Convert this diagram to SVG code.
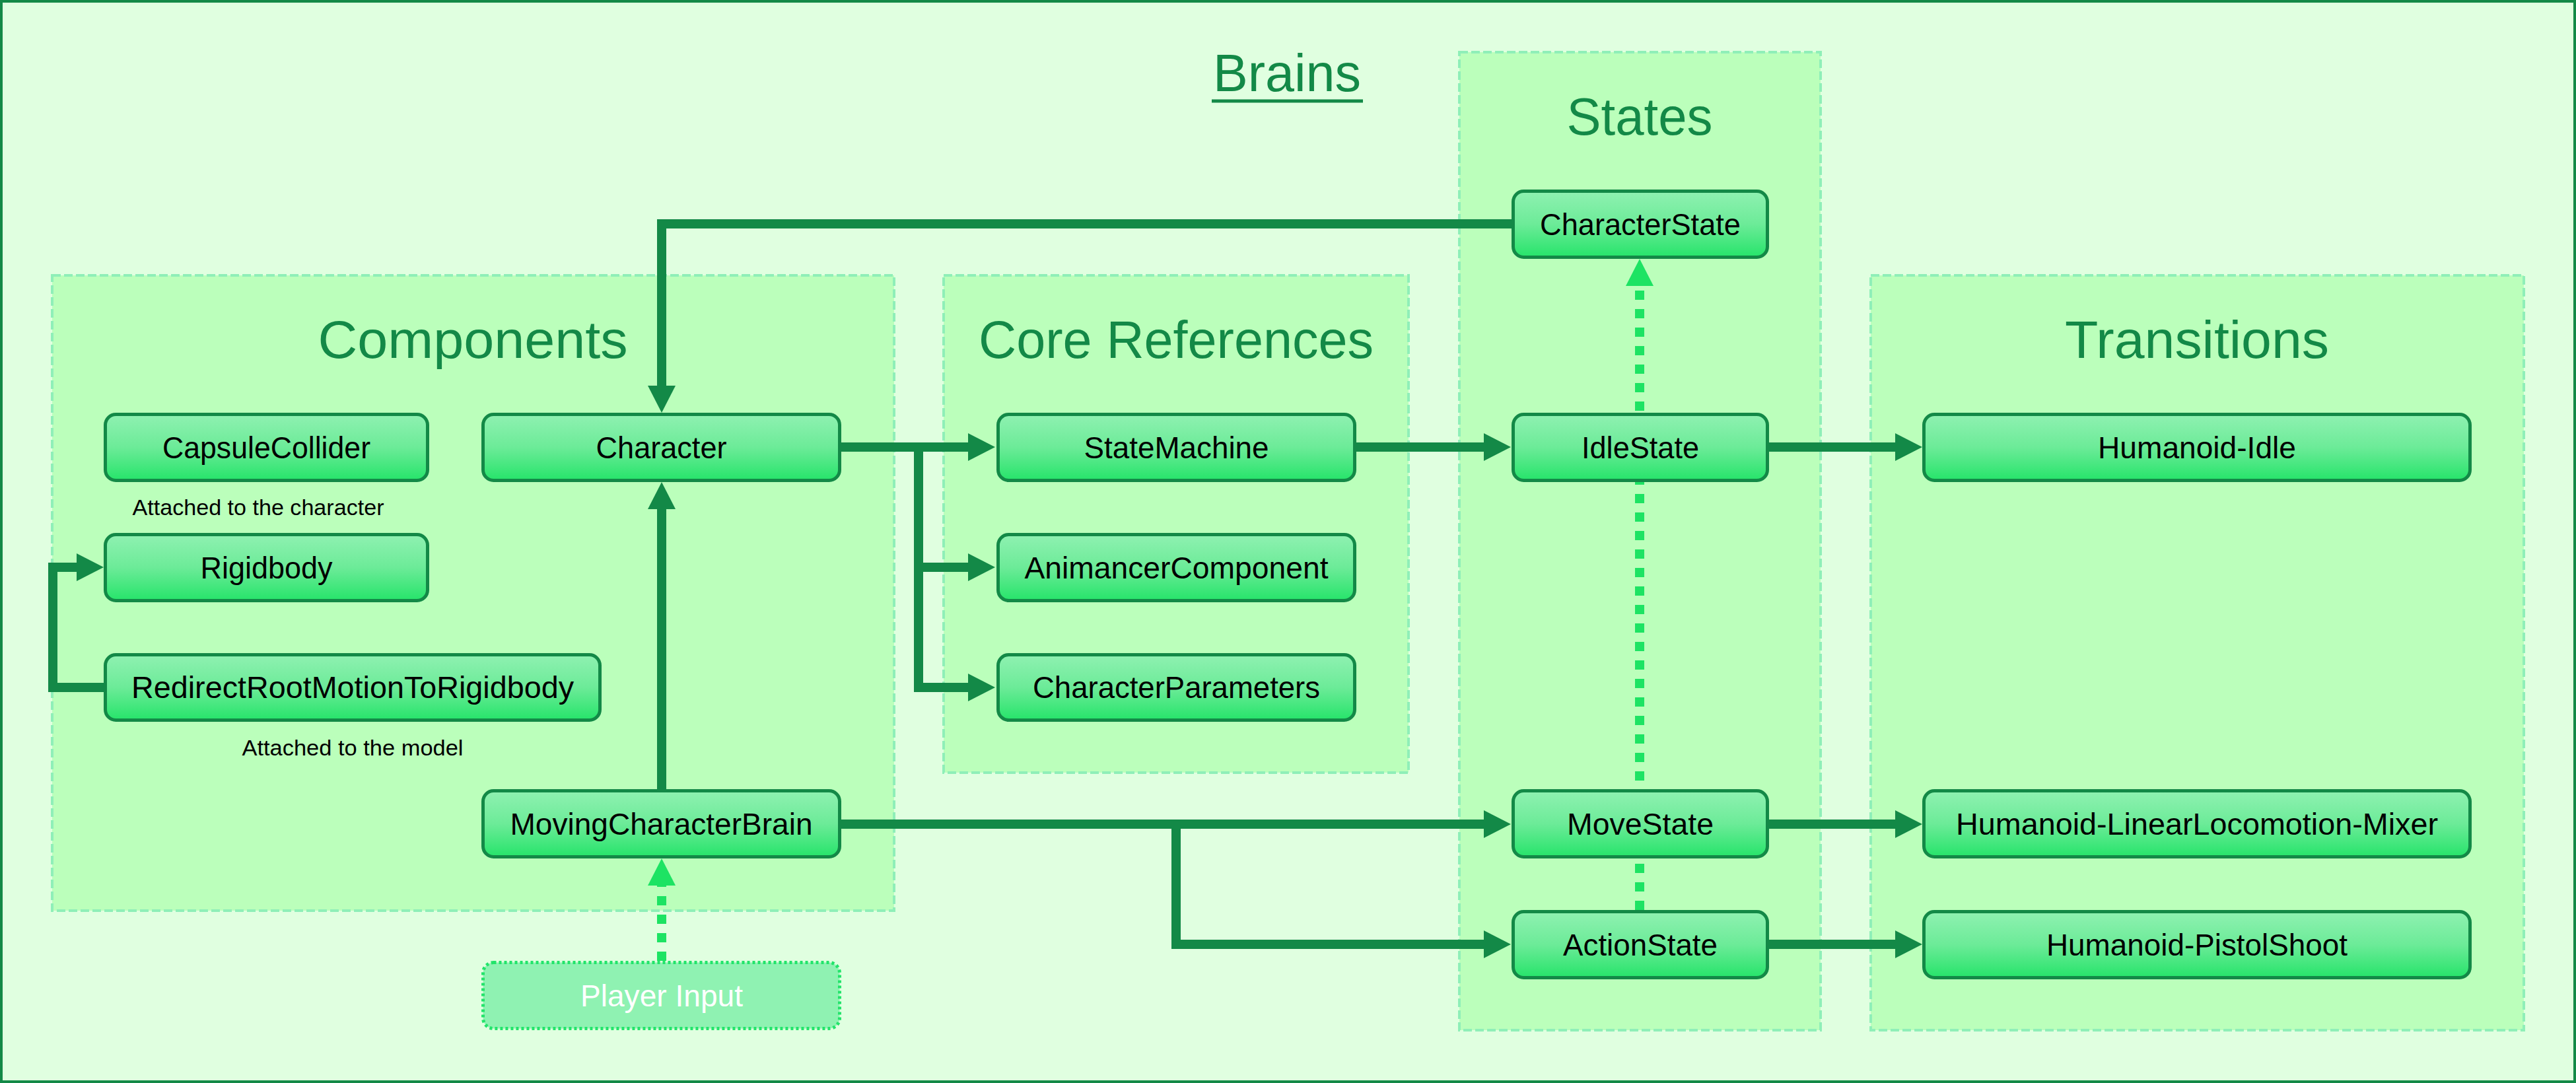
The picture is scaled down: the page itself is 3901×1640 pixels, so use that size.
<svg xmlns="http://www.w3.org/2000/svg" width="3901" height="1640" viewBox="0 0 3901 1640">
<defs>
<linearGradient id="nodeGrad" x1="0" y1="0" x2="0" y2="1">
<stop offset="0" stop-color="#8FF1B1"/>
<stop offset="0.5" stop-color="#6CEB98"/>
<stop offset="1" stop-color="#26E46A"/>
</linearGradient>
<marker id="arrow" markerUnits="userSpaceOnUse" markerWidth="42" markerHeight="42" refX="0" refY="21" orient="auto" viewBox="0 0 42 42">
<path d="M0,0 L41,21 L0,42 z" fill="#138947"/>
</marker>
<marker id="arrowDash" markerUnits="userSpaceOnUse" markerWidth="42" markerHeight="42" refX="0" refY="21" orient="auto" viewBox="0 0 42 42">
<path d="M0,0 L41,21 L0,42 z" fill="#1DE363"/>
</marker>
</defs>
<style>
.group{fill:#BBFFBB;stroke:#8FEFB8;stroke-width:4;stroke-dasharray:13 5}
.node rect{fill:url(#nodeGrad);stroke:#138947;stroke-width:5}
.node text{font-family:"Liberation Sans",Arial,sans-serif;font-size:46px;fill:#000;text-anchor:middle}
.title{font-family:"Liberation Sans",Arial,sans-serif;font-size:80px;fill:#138947;text-anchor:middle}
.note{font-family:"Liberation Sans",Arial,sans-serif;font-size:34px;fill:#000;text-anchor:middle}
.conn{fill:none;stroke:#138947;stroke-width:14;marker-end:url(#arrow)}
.dash{fill:none;stroke:#1DE363;stroke-width:14;stroke-dasharray:14 14;marker-end:url(#arrowDash)}
</style>
<rect x="2" y="2" width="3897" height="1636" fill="#E0FFE0" stroke="#138947" stroke-width="4"/>
<g id="title-brains">
<text class="title" x="1949" y="138" font-size="79" textLength="224" lengthAdjust="spacingAndGlyphs">Brains</text>
<line x1="1835" y1="153" x2="2064" y2="153" stroke="#138947" stroke-width="5"/>
</g>
<g id="group-components">
<rect class="group" x="79" y="417" width="1275" height="962"/>
<text class="title" x="716" y="542" textLength="469" lengthAdjust="spacingAndGlyphs">Components</text>
</g>
<g id="group-core-references">
<rect class="group" x="1429" y="417" width="704" height="753"/>
<text class="title" x="1781" y="542" textLength="598" lengthAdjust="spacingAndGlyphs">Core References</text>
</g>
<g id="group-states">
<rect class="group" x="2210" y="79" width="547" height="1481"/>
<text class="title" x="2483" y="204" textLength="221" lengthAdjust="spacingAndGlyphs">States</text>
</g>
<g id="group-transitions">
<rect class="group" x="2833" y="417" width="989" height="1143"/>
<text class="title" x="3327" y="542" textLength="400" lengthAdjust="spacingAndGlyphs">Transitions</text>
</g>
<g id="connectors">
<path class="dash" d="M2483,1378 V433"/>
<path class="dash" d="M1002,1455 V1341"/>
<path class="conn" d="M2289,339 H1002 V584"/>
<path class="conn" d="M1002,1195 V771"/>
<path class="conn" d="M1274,677 H1466"/>
<path class="conn" d="M1391,677 V859 H1466"/>
<path class="conn" d="M1391,859 V1041 H1466"/>
<path class="conn" d="M2054,677 H2247"/>
<path class="conn" d="M2679,677 H2870"/>
<path class="conn" d="M1274,1248 H2247"/>
<path class="conn" d="M1781,1248 V1430 H2247"/>
<path class="conn" d="M2679,1248 H2870"/>
<path class="conn" d="M2679,1430 H2870"/>
<path class="conn" d="M157,1041 H80 V859 H116"/>
</g>
<g id="node-capsulecollider" class="node">
<rect x="159.5" y="627.5" width="488" height="100" rx="16"/>
<text x="403.5" y="694" textLength="315" lengthAdjust="spacingAndGlyphs">CapsuleCollider</text>
</g>
<text id="note-character" class="note" x="391" y="780" textLength="381" lengthAdjust="spacingAndGlyphs">Attached to the character</text>
<g id="node-character" class="node">
<rect x="731.5" y="627.5" width="540" height="100" rx="16"/>
<text x="1001.5" y="694" textLength="198" lengthAdjust="spacingAndGlyphs">Character</text>
</g>
<g id="node-rigidbody" class="node">
<rect x="159.5" y="809.5" width="488" height="100" rx="16"/>
<text x="403.5" y="876" textLength="200" lengthAdjust="spacingAndGlyphs">Rigidbody</text>
</g>
<g id="node-redirect" class="node">
<rect x="159.5" y="991.5" width="749" height="99" rx="16"/>
<text x="534" y="1057" textLength="670" lengthAdjust="spacingAndGlyphs">RedirectRootMotionToRigidbody</text>
</g>
<text id="note-model" class="note" x="534" y="1144" textLength="335" lengthAdjust="spacingAndGlyphs">Attached to the model</text>
<g id="node-movingcharacterbrain" class="node">
<rect x="731.5" y="1197.5" width="540" height="100" rx="16"/>
<text x="1001.5" y="1264" textLength="458" lengthAdjust="spacingAndGlyphs">MovingCharacterBrain</text>
</g>
<g id="node-playerinput">
<rect x="731.5" y="1457.5" width="540" height="100" rx="16" fill="#8FF2B2" stroke="#22E46A" stroke-width="5" stroke-dasharray="4 4"/>
<text x="1002" y="1524" font-family="Liberation Sans, Arial, sans-serif" font-size="46" fill="#FFFFFF" text-anchor="middle" textLength="246" lengthAdjust="spacingAndGlyphs">Player Input</text>
</g>
<g id="node-statemachine" class="node">
<rect x="1511.5" y="627.5" width="540" height="100" rx="16"/>
<text x="1781.5" y="694" textLength="280" lengthAdjust="spacingAndGlyphs">StateMachine</text>
</g>
<g id="node-animancercomponent" class="node">
<rect x="1511.5" y="809.5" width="540" height="100" rx="16"/>
<text x="1781.5" y="876" textLength="460" lengthAdjust="spacingAndGlyphs">AnimancerComponent</text>
</g>
<g id="node-characterparameters" class="node">
<rect x="1511.5" y="991.5" width="540" height="99" rx="16"/>
<text x="1781.5" y="1057" textLength="435" lengthAdjust="spacingAndGlyphs">CharacterParameters</text>
</g>
<g id="node-characterstate" class="node">
<rect x="2291.5" y="289.5" width="385" height="100" rx="16"/>
<text x="2484" y="356" textLength="304" lengthAdjust="spacingAndGlyphs">CharacterState</text>
</g>
<g id="node-idlestate" class="node">
<rect x="2291.5" y="627.5" width="385" height="100" rx="16"/>
<text x="2484" y="694" textLength="178" lengthAdjust="spacingAndGlyphs">IdleState</text>
</g>
<g id="node-movestate" class="node">
<rect x="2291.5" y="1197.5" width="385" height="100" rx="16"/>
<text x="2484" y="1264" textLength="222" lengthAdjust="spacingAndGlyphs">MoveState</text>
</g>
<g id="node-actionstate" class="node">
<rect x="2291.5" y="1380.5" width="385" height="100" rx="16"/>
<text x="2484" y="1447" textLength="234" lengthAdjust="spacingAndGlyphs">ActionState</text>
</g>
<g id="node-humanoid-idle" class="node">
<rect x="2913.5" y="627.5" width="827" height="100" rx="16"/>
<text x="3327" y="694" textLength="300" lengthAdjust="spacingAndGlyphs">Humanoid-Idle</text>
</g>
<g id="node-humanoid-mixer" class="node">
<rect x="2913.5" y="1197.5" width="827" height="100" rx="16"/>
<text x="3327" y="1264" textLength="730" lengthAdjust="spacingAndGlyphs">Humanoid-LinearLocomotion-Mixer</text>
</g>
<g id="node-humanoid-pistolshoot" class="node">
<rect x="2913.5" y="1380.5" width="827" height="100" rx="16"/>
<text x="3327" y="1447" textLength="456" lengthAdjust="spacingAndGlyphs">Humanoid-PistolShoot</text>
</g>
</svg>
